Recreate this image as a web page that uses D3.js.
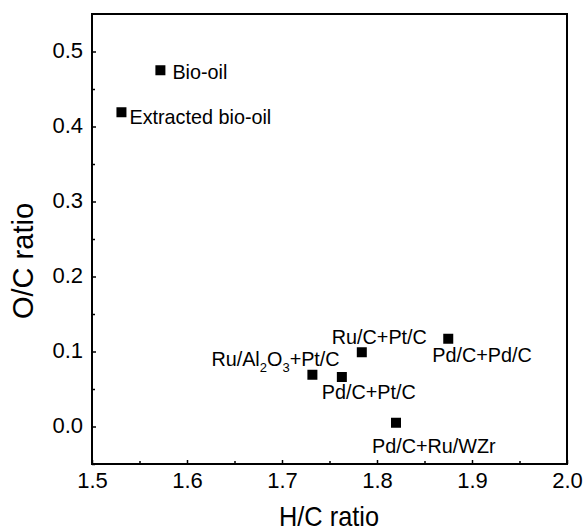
<!DOCTYPE html>
<html>
<head>
<meta charset="utf-8">
<script src="https://cdn.jsdelivr.net/npm/d3@7"></script>
<style>
  body { margin: 0; background: #fff; }
  svg { display: block; font-family: "Liberation Sans", Arial, sans-serif; }
</style>
</head>
<body>
<svg id="chart" width="586" height="531"></svg>
<script>
// ---- data ----
const samples = ["Bio-oil", "Extracted bio-oil", "Ru/C+Pt/C", "Pd/C+Pd/C", "Ru/Al2O3+Pt/C", "Pd/C+Pt/C", "Pd/C+Ru/WZr"];
const hcRatio = [1.572, 1.531, 1.784, 1.875, 1.732, 1.763, 1.820];
const ocRatio = [0.475, 0.419, 0.099, 0.117, 0.069, 0.066, 0.005];
const xTicks = [1.5, 1.6, 1.7, 1.8, 1.9, 2.0];
const yTicks = [0.0, 0.1, 0.2, 0.3, 0.4, 0.5];
const xMinorTicks = [1.55, 1.65, 1.75, 1.85, 1.95];
const yMinorTicks = [-0.05, 0.05, 0.15, 0.25, 0.35, 0.45];

// ---- layout (label offsets in px relative to marker) ----
const labelOffsets = [[12, 9], [8, 12], [-30, -8], [-16, 23], [-101, -9], [-20, 22], [-24, 30]];

const svg = d3.select("#chart");
const mLeft = 92, mRight = 567, mTop = 14, mBottom = 464;
const x = d3.scaleLinear().domain([1.5, 2.0]).range([mLeft, mRight]);
const y = d3.scaleLinear().domain([-0.05, 0.55]).range([mBottom, mTop]);

// minor ticks
svg.append("g").attr("transform", `translate(0,${mBottom})`)
  .call(d3.axisBottom(x).tickValues(xMinorTicks).tickSize(-3).tickFormat(""))
  .call(g => g.select(".domain").remove())
  .call(g => g.selectAll("line").attr("stroke", "#000").attr("stroke-width", 1.5));
svg.append("g").attr("transform", `translate(${mLeft},0)`)
  .call(d3.axisLeft(y).tickValues(yMinorTicks).tickSize(-3).tickFormat(""))
  .call(g => g.select(".domain").remove())
  .call(g => g.selectAll("line").attr("stroke", "#000").attr("stroke-width", 1.5));

// major ticks
svg.append("g").attr("transform", `translate(0,${mBottom})`)
  .call(d3.axisBottom(x).tickValues(xTicks).tickSize(-4).tickPadding(8).tickFormat(d3.format(".1f")))
  .call(g => g.select(".domain").remove())
  .call(g => g.selectAll("line").attr("stroke", "#000").attr("stroke-width", 1.5))
  .call(g => g.selectAll("text").attr("font-size", 22).attr("fill", "#000")
    .attr("font-family", "Liberation Sans, Arial, sans-serif"));
svg.append("g").attr("transform", `translate(${mLeft},0)`)
  .call(d3.axisLeft(y).tickValues(yTicks).tickSize(-4).tickPadding(9).tickFormat(d3.format(".1f")))
  .call(g => g.select(".domain").remove())
  .call(g => g.selectAll("line").attr("stroke", "#000").attr("stroke-width", 1.5))
  .call(g => g.selectAll("text").attr("font-size", 22).attr("fill", "#000").attr("dy", "0.27em")
    .attr("font-family", "Liberation Sans, Arial, sans-serif"));

// frame
svg.append("rect")
  .attr("x", mLeft).attr("y", mTop)
  .attr("width", mRight - mLeft).attr("height", mBottom - mTop)
  .attr("fill", "none").attr("stroke", "#000").attr("stroke-width", 2);

// markers
const pts = samples.map((s, i) => ({ name: s, hc: hcRatio[i], oc: ocRatio[i], off: labelOffsets[i] }));
const msize = 10;
svg.append("g").selectAll("rect").data(pts).join("rect")
  .attr("x", d => x(d.hc) - msize / 2)
  .attr("y", d => y(d.oc) - msize / 2)
  .attr("width", msize).attr("height", msize)
  .attr("fill", "#000");

// labels
const labels = svg.append("g").selectAll("text").data(pts).join("text")
  .attr("x", d => x(d.hc) + d.off[0])
  .attr("y", d => y(d.oc) + d.off[1])
  .attr("font-size", 19.8)
  .attr("fill", "#000");
labels.each(function(d) {
  const t = d3.select(this);
  const m = d.name.match(/^(Ru\/Al)(2)(O)(3)(.*)$/);
  if (m) {
    t.append("tspan").text(m[1]);
    t.append("tspan").attr("font-size", 13).attr("dy", 6).text(m[2]);
    t.append("tspan").attr("dy", -6).text(m[3]);
    t.append("tspan").attr("font-size", 13).attr("dy", 6).text(m[4]);
    t.append("tspan").attr("dy", -6).text(m[5]);
  } else {
    t.text(d.name);
  }
});

// axis titles
svg.append("text")
  .attr("x", (mLeft + mRight) / 2 - 0.5).attr("y", 526)
  .attr("text-anchor", "middle")
  .attr("font-size", 28)
  .attr("textLength", 100).attr("lengthAdjust", "spacingAndGlyphs")
  .attr("fill", "#000")
  .text("H/C ratio");
svg.append("text")
  .attr("transform", "translate(33,261) rotate(-90)")
  .attr("text-anchor", "middle")
  .attr("font-size", 29)
  .attr("fill", "#000")
  .text("O/C ratio");
</script>
</body>
</html>
